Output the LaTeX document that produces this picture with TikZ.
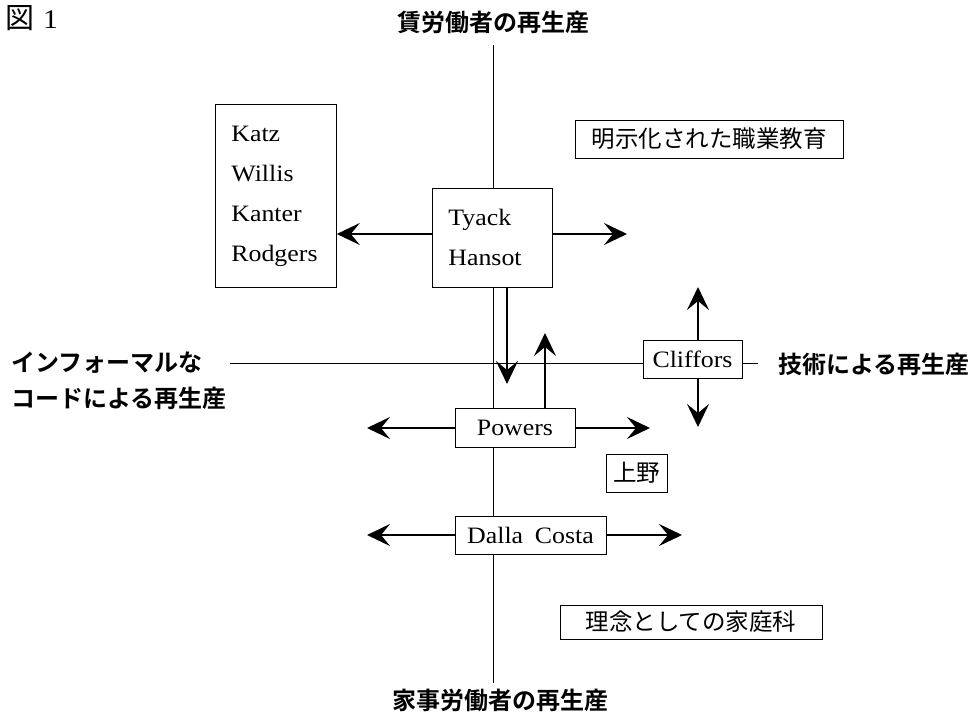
\documentclass[tikz,border=0pt]{standalone}
\usepackage{fontspec}
\setmainfont{Liberation Serif}[FakeStretch=1.1]
\newfontfamily\jp{Noto Sans CJK JP}
\newfontfamily\jpb{Noto Sans CJK JP Bold}
\usetikzlibrary{arrows.meta}
\begin{document}
\begin{tikzpicture}[x=1pt,y=-1pt,
  box/.style={draw, line width=0.8pt, fill=white, inner sep=0pt},
  arr/.style={-{Stealth[length=23pt,width=22pt,inset=9pt]}, line width=1.8pt},
  axisline/.style={line width=0.8pt},
  lat/.style={font=\fontsize{23.5}{40}\selectfont},
  jptext/.style={font=\jp\fontsize{23.5}{26}\selectfont},
  jplabel/.style={font=\jpb\fontsize{24}{28}\selectfont, inner sep=0pt}]
\useasboundingbox (0,0) rectangle (971,714);
% axes coordinates
\coordinate (vt) at (493,45);
\coordinate (vb) at (493,683);
\draw[axisline] (vt) -- (vb);
% figure title
\node[anchor=west, inner sep=0pt] (fig) at (5,18) {{\jp\fontsize{29}{29}\selectfont 図}\hspace{9pt}{\fontsize{27}{28}\selectfont 1}};
% axis labels
\node[jplabel] (top) at (493,22) {賃労働者の再生産};
\node[jplabel] (bottom) at (500,700) {家事労働者の再生産};
\node[jplabel, anchor=west] (left1) at (11,363) {インフォーマルな};
\node[jplabel, anchor=west] (left2) at (11,398) {コードによる再生産};
\node[jplabel, anchor=west] (right) at (778,364) {技術による再生産};
% boxes
\node[box, lat, anchor=north west, minimum width=121pt, minimum height=183pt,
  text width=89pt, align=left, inner xsep=16pt] (katz) at (215,104) {Katz\\Willis\\Kanter\\Rodgers};
\node[box, lat, anchor=north west, minimum width=120pt, minimum height=99pt,
  text width=88pt, align=left, inner xsep=16pt] (tyack) at (432,188) {Tyack\\Hansot};
\node[box, jptext, minimum width=268pt, minimum height=38pt] (meiji) at (709,139) {明示化された職業教育};
\node[box, lat, minimum width=120pt, minimum height=39pt] (powers) at (515,428) {Powers};
\node[box, lat, minimum width=99pt, minimum height=38pt] (cliffors) at (692.5,359) {Cliffors};
\node[box, jptext, minimum width=61pt, minimum height=38pt] (ueno) at (636.5,473) {上野};
\node[box, lat, minimum width=151pt, minimum height=38pt] (dalla) at (530.5,535) {Dalla\enspace Costa};
\node[box, jptext, minimum width=262pt, minimum height=34pt] (rinen) at (691,622) {理念としての家庭科};
% horizontal axis
\coordinate (hl) at (230,363);
\coordinate (hr) at (758,363);
\draw[axisline] (hl) -- (hl -| cliffors.west);
\draw[axisline] (hr -| cliffors.east) -- (hr);
% arrow end coordinates
\coordinate (tyr) at (627,234);
\coordinate (dtip) at (507,384);
\coordinate (utip) at (545,333);
\coordinate (ctop) at (698,287);
\coordinate (cbot) at (698,427);
\coordinate (pl) at (367,428);
\coordinate (pr) at (650,428);
\coordinate (dl) at (367,535);
\coordinate (dr) at (682,535);
% arrows
\draw[arr] (tyack.west |- tyr) -- (katz.east |- tyr);
\draw[arr] (tyack.east |- tyr) -- (tyr);
\draw[arr] (tyack.south -| dtip) -- (dtip);
\draw[arr] (powers.north -| utip) -- (utip);
\draw[arr] (cliffors.north -| ctop) -- (ctop);
\draw[arr] (cliffors.south -| cbot) -- (cbot);
\draw[arr] (powers.west) -- (pl);
\draw[arr] (powers.east) -- (pr);
\draw[arr] (dalla.west) -- (dl);
\draw[arr] (dalla.east) -- (dr);
\end{tikzpicture}
\end{document}
